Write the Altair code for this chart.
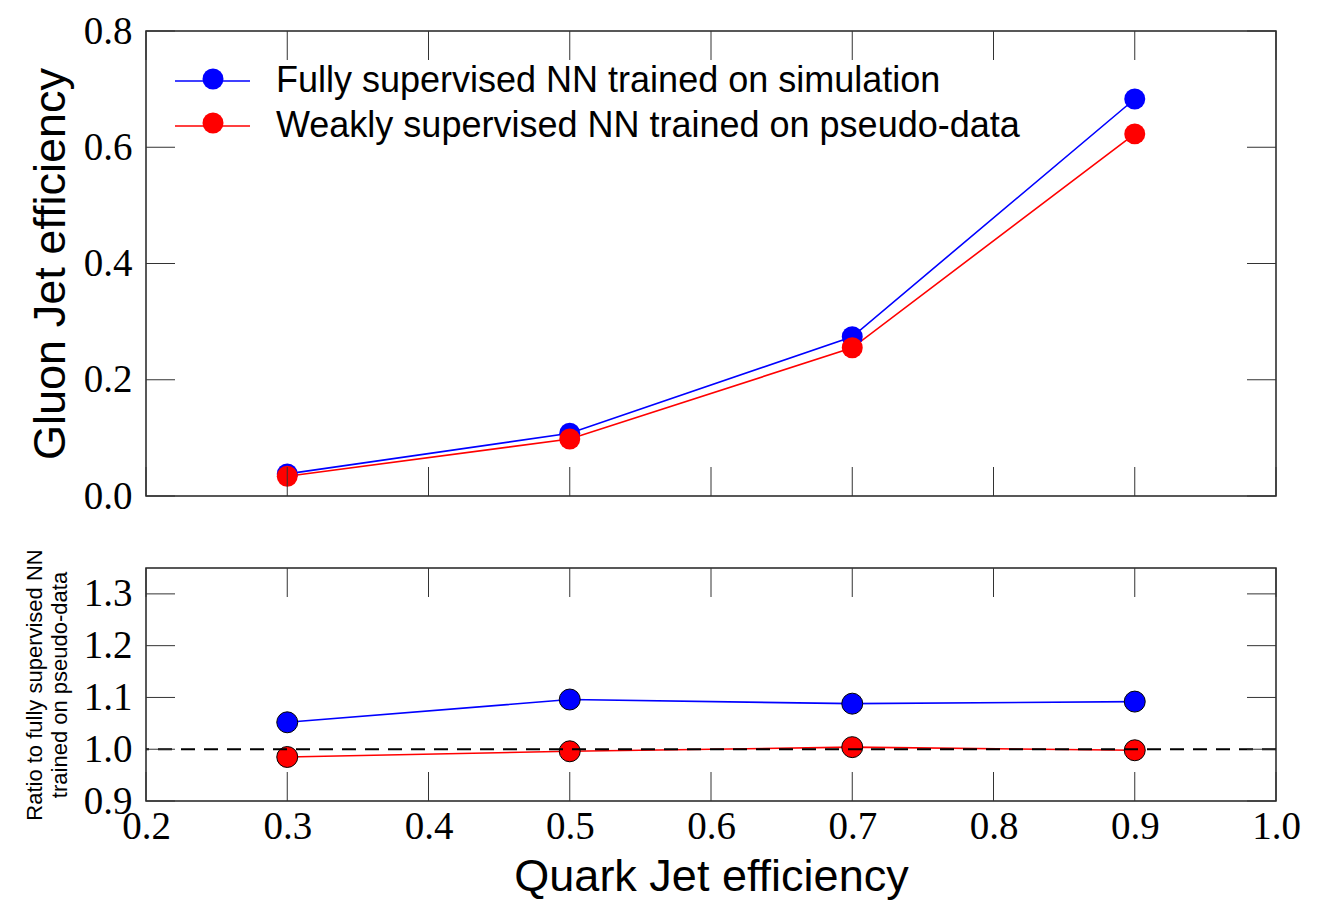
import altair as alt
import pandas as pd

# ---- data ----
x_eff = [0.3, 0.5, 0.7, 0.9]
gluon_full = [0.038, 0.108, 0.274, 0.683]
gluon_weak = [0.034, 0.098, 0.255, 0.623]
ratio_full = [1.052, 1.096, 1.088, 1.092]
ratio_weak = [0.985, 0.996, 1.004, 0.998]
series_names = ["Fully supervised NN trained on simulation",
                "Weakly supervised NN trained on pseudo-data"]
series_keys = ["full", "weak"]
series_colors = ["#0000ff", "#ff0000"]
x_ticks = [0.2, 0.3, 0.4, 0.5, 0.6, 0.7, 0.8, 0.9, 1.0]
top_y_ticks = [0.0, 0.2, 0.4, 0.6, 0.8]
bottom_y_ticks = [0.9, 1.0, 1.1, 1.2, 1.3]
ref_level = [1.0]

W = 1130
H1 = 465
H2 = 233
TICK = 29
SERIF = "Liberation Serif"
SANS = "Liberation Sans"
TICKCOL = "#333333"
PT_SIZE = 440

top_df = pd.DataFrame({
    "x": x_eff + x_eff,
    "y": gluon_full + gluon_weak,
    "series": [series_names[0]] * 4 + [series_names[1]] * 4,
    "key": [series_keys[0]] * 4 + [series_keys[1]] * 4,
})
bot_df = pd.DataFrame({
    "x": x_eff + x_eff,
    "y": ratio_full + ratio_weak,
    "series": [series_names[0]] * 4 + [series_names[1]] * 4,
    "key": [series_keys[0]] * 4 + [series_keys[1]] * 4,
})
xt_df = pd.DataFrame({"t": x_ticks})
yt1_df = pd.DataFrame({"t": top_y_ticks})
yt2_df = pd.DataFrame({"t": bottom_y_ticks})
ref_df = pd.DataFrame({"r": ref_level})

xs = alt.Scale(domain=[0.2, 1.0], nice=False, zero=False)
ys1 = alt.Scale(domain=[0.0, 0.8], nice=False)
ys2 = alt.Scale(domain=[0.9, 1.35], nice=False, zero=False)
cscale = alt.Scale(domain=series_names, range=series_colors)
kscale = alt.Scale(domain=series_keys, range=series_colors)

# line part of the legend (with the labels)
leg_line = alt.Legend(title=None, orient="none", legendX=48.5, legendY=32,
                      symbolType="M-3,0L3,0", symbolSize=625, symbolStrokeWidth=1.6,
                      labelFont=SANS, labelFontSize=36, labelColor="black",
                      labelOffset=45.5, rowPadding=9, labelLimit=1000)
# marker part of the legend, drawn over the middle of the line symbols (no labels)
leg_dot = alt.Legend(title=None, orient="none", legendX=56.5, legendY=37.5,
                     symbolType="circle", symbolSize=PT_SIZE, symbolStrokeWidth=0,
                     labelExpr="''", labelFontSize=1, labelOffset=0,
                     rowPadding=23)

top_yaxis = alt.Axis(values=top_y_ticks, format=".1f", title="Gluon Jet efficiency",
                     ticks=False, domain=False, grid=False, labelFlush=False,
                     labelOverlap=False, labelFont=SERIF, labelFontSize=39,
                     labelColor="black", labelPadding=14, titleFont=SANS,
                     titleFontSize=45, titleFontWeight="normal", titleColor="black",
                     titlePadding=10)
bot_yaxis = alt.Axis(values=bottom_y_ticks, format=".1f",
                     title=["Ratio to fully supervised NN", "trained on pseudo-data"],
                     ticks=False, domain=False, grid=False, labelFlush=False,
                     labelOverlap=False, labelFont=SERIF, labelFontSize=39,
                     labelColor="black", labelPadding=14, titleFont=SANS,
                     titleFontSize=22, titleLineHeight=25, titleFontWeight="normal",
                     titleColor="black", titlePadding=12)
bot_xaxis = alt.Axis(values=x_ticks, format=".1f", title="Quark Jet efficiency",
                     ticks=False, domain=False, grid=False, labelFlush=False,
                     labelOverlap=False, labelFont=SERIF, labelFontSize=39,
                     labelColor="black", labelPadding=6, titleFont=SANS,
                     titleFontSize=45, titleFontWeight="normal", titleColor="black",
                     titlePadding=8)


def xtick_layers(h, xaxis):
    b = alt.Chart(xt_df).mark_rule(color=TICKCOL, strokeWidth=1).encode(
        x=alt.X("t:Q", scale=xs, axis=xaxis), y=alt.value(h), y2=alt.value(h - TICK))
    t = alt.Chart(xt_df).mark_rule(color=TICKCOL, strokeWidth=1).encode(
        x=alt.X("t:Q", scale=xs, axis=xaxis), y=alt.value(0), y2=alt.value(TICK))
    return [b, t]


def ytick_layers(df, ysc, yaxis):
    l = alt.Chart(df).mark_rule(color=TICKCOL, strokeWidth=1).encode(
        y=alt.Y("t:Q", scale=ysc, axis=yaxis), x=alt.value(0), x2=alt.value(TICK))
    r = alt.Chart(df).mark_rule(color=TICKCOL, strokeWidth=1).encode(
        y=alt.Y("t:Q", scale=ysc, axis=yaxis), x=alt.value(W - TICK), x2=alt.value(W))
    return [l, r]


top_line = alt.Chart(top_df).mark_line(strokeWidth=1.6).encode(
    x=alt.X("x:Q", scale=xs, axis=None),
    y=alt.Y("y:Q", scale=ys1, axis=top_yaxis),
    color=alt.Color("series:N", scale=cscale, legend=leg_line),
)
top_pts = alt.Chart(top_df).mark_point(filled=True, size=PT_SIZE, opacity=1, strokeWidth=0).encode(
    x=alt.X("x:Q", scale=xs, axis=None),
    y=alt.Y("y:Q", scale=ys1, axis=top_yaxis),
    fill=alt.Fill("key:N", scale=kscale, legend=leg_dot),
)

top = alt.layer(top_line, top_pts, *xtick_layers(H1, None),
                *ytick_layers(yt1_df, ys1, top_yaxis)).properties(width=W, height=H1)

bot_line = alt.Chart(bot_df).mark_line(strokeWidth=1.6).encode(
    x=alt.X("x:Q", scale=xs, axis=bot_xaxis),
    y=alt.Y("y:Q", scale=ys2, axis=bot_yaxis),
    stroke=alt.Stroke("series:N", scale=cscale, legend=None),
)
bot_pts = alt.Chart(bot_df).mark_point(filled=True, size=PT_SIZE, opacity=1, stroke="black",
                                       strokeWidth=1).encode(
    x=alt.X("x:Q", scale=xs, axis=bot_xaxis),
    y=alt.Y("y:Q", scale=ys2, axis=bot_yaxis),
    fill=alt.Fill("key:N", scale=kscale, legend=None),
)
bot_ref = alt.Chart(ref_df).mark_rule(color="black", strokeWidth=2, strokeDash=[14, 9]).encode(
    y=alt.Y("r:Q", scale=ys2, axis=bot_yaxis))

bottom = alt.layer(bot_line, bot_pts, bot_ref, *xtick_layers(H2, bot_xaxis),
                   *ytick_layers(yt2_df, ys2, bot_yaxis)).properties(width=W, height=H2)

chart = alt.vconcat(top, bottom, spacing=31).resolve_scale(
    color="independent", fill="independent", stroke="independent"
).resolve_legend(color="independent", fill="independent", stroke="independent").properties(
    padding={"left": 22, "top": 11, "right": 5, "bottom": 0}
).configure_view(stroke="#222222", strokeWidth=1.5)

chart.save("out.html", embed_options={"renderer": "svg", "actions": False})
